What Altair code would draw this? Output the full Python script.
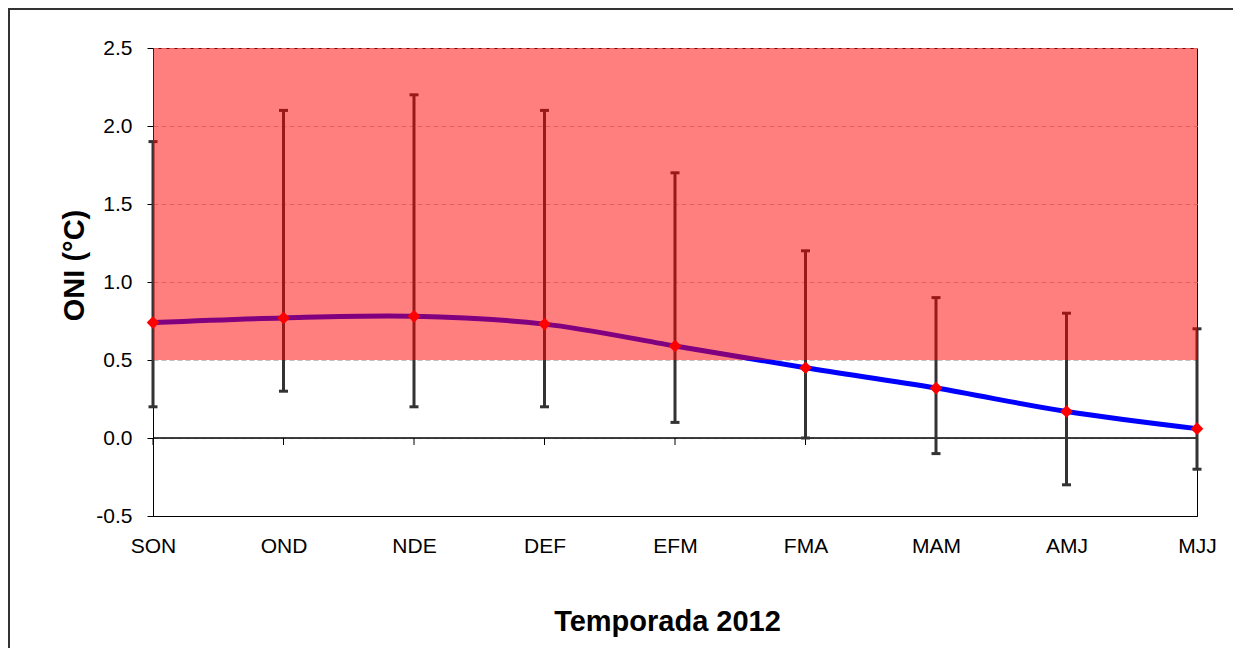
import altair as alt
import pandas as pd

# ---- data ----
seasons = ["SON", "OND", "NDE", "DEF", "EFM", "FMA", "MAM", "AMJ", "MJJ"]
oni_mean = [0.74, 0.77, 0.78, 0.73, 0.59, 0.45, 0.32, 0.17, 0.06]
oni_low = [0.2, 0.3, 0.2, 0.2, 0.1, 0.0, -0.1, -0.3, -0.2]
oni_high = [1.9, 2.1, 2.2, 2.1, 1.7, 1.2, 0.9, 0.8, 0.7]
warm_band = [0.5, 2.5]          # El Niño threshold band
y_ticks = [-0.5, 0.0, 0.5, 1.0, 1.5, 2.0, 2.5]

df = pd.DataFrame({"season": seasons, "mean": oni_mean, "low": oni_low, "high": oni_high})
band_df = pd.DataFrame({"y": [warm_band[0]], "y2": [warm_band[1]]})
zero_df = pd.DataFrame({"y": [0.0]})

FONT = "Liberation Sans"
W, H = 1044, 468

xscale = alt.Scale(type="point", domain=seasons, padding=0)
yscale = alt.Scale(domain=[-0.5, 2.5], nice=False, zero=False)

x_axis = alt.Axis(
    title="Temporada 2012", labelAngle=0, labelFont=FONT, labelFontSize=21,
    labelColor="#000", labelPadding=19, ticks=False, tickSize=0, domain=False,
    grid=False, titleFont=FONT, titleFontSize=29, titleFontWeight="bold",
    titleColor="#000", titleX=514, titleY=114, titleAlign="center",
    titleBaseline="alphabetic",
)
y_axis = alt.Axis(
    values=y_ticks, title="ONI (°C)",
    labelExpr="datum.value < 0 ? '-' + format(abs(datum.value), '.1f') : format(datum.value, '.1f')",
    labelFont=FONT, labelFontSize=21, labelColor="#000", labelPadding=15,
    tickSize=6, tickColor="#000", domainColor="#000", domainWidth=1,
    grid=True,
    gridColor={"condition": {"test": "datum.value <= -0.5", "value": "#000000"}, "value": "#c0c0c0"},
    gridDash={"condition": {"test": "datum.value <= -0.5", "value": []}, "value": [5, 3]},
    gridWidth=1,
    titleFont=FONT, titleFontSize=29, titleFontWeight="bold", titleColor="#000",
    titleX=-70, titleY=217, titleAngle=270, titleAlign="center",
    titleBaseline="alphabetic",
)

X = alt.X("season:N", scale=xscale, sort=seasons, axis=x_axis)


def Y(field):
    return alt.Y(field, type="quantitative", scale=yscale, axis=y_axis)


zero_line = alt.Chart(zero_df).mark_rule(color="#000", strokeWidth=1.5).encode(y=Y("y"))

cat_ticks = alt.Chart(df).mark_rule(color="#000", strokeWidth=1, y2Offset=7).encode(
    x=X, y=alt.Y("z:Q", scale=yscale, axis=y_axis), y2="z:Q"
).transform_calculate(z="0")

err = alt.Chart(df).mark_rule(color="#333333", strokeWidth=3).encode(
    x=X, y=Y("low"), y2="high:Q"
)
cap_low = alt.Chart(df).mark_tick(color="#333333", thickness=3, size=9,
                                  orient="horizontal", opacity=1).encode(x=X, y=Y("low"))
cap_high = alt.Chart(df).mark_tick(color="#333333", thickness=3, size=9,
                                   orient="horizontal", opacity=1).encode(x=X, y=Y("high"))

line = alt.Chart(df).mark_line(color="#0000ff", strokeWidth=5,
                               interpolate="catmull-rom").encode(x=X, y=Y("mean"))

band = alt.Chart(band_df).mark_rect(color="#ff0000", opacity=0.5).encode(
    y=Y("y"), y2="y2:Q"
)

points = alt.Chart(df).mark_point(shape="diamond", filled=True, color="#ff0000",
                                  size=160, opacity=1).encode(x=X, y=Y("mean"))

one = pd.DataFrame({"k": [1]})
frame_top = alt.Chart(one).mark_rule(color="#333333", strokeWidth=2).encode(
    x=alt.value(-145), x2=alt.value(1080), y=alt.value(-39)
)
frame_left = alt.Chart(one).mark_rule(color="#333333", strokeWidth=2).encode(
    x=alt.value(-144), y=alt.value(-40), y2=alt.value(700)
)

chart = alt.layer(
    zero_line, cat_ticks, err, cap_low, cap_high, line, band, points,
    frame_top, frame_left
).properties(
    width=W, height=H,
    padding={"left": 145, "top": 40, "right": 36, "bottom": 132},
    autosize=alt.AutoSizeParams(type="none"),
    background="#ffffff",
).configure_view(
    stroke="#000000", strokeWidth=1
)

chart.save("out.html", embed_options={"renderer": "svg", "actions": False})
